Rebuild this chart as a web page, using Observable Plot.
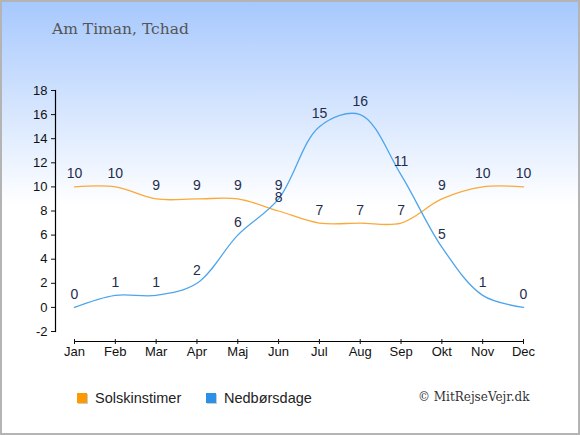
<!DOCTYPE html>
<html>
<head>
<meta charset="utf-8">
<script src="https://cdn.jsdelivr.net/npm/d3@7"></script>
<script src="https://cdn.jsdelivr.net/npm/@observablehq/plot@0.6"></script>
<style>
  html, body { margin: 0; padding: 0; }
  #wrap {
    position: relative; width: 580px; height: 435px;
    background: linear-gradient(to bottom, #a6c8fd 0px, #ffffff 205px, #ffffff 435px);
    overflow: hidden;
  }
  #chart { position: absolute; left: 0; top: 0; width: 580px; height: 435px; }
  #chart svg { max-width: none; display: block; }
  #border { position: absolute; left: 0; top: 0; width: 580px; height: 435px; box-sizing: border-box; border: 2px solid #b4b4b4; pointer-events: none; }
  #title { position: absolute; left: 52px; top: 20px; font-family: "DejaVu Serif", "Liberation Serif", serif; font-size: 15.5px; color: #555; }
  .leg { position: absolute; top: 390px; font-family: "Liberation Sans", Arial, sans-serif; font-size: 14.5px; color: #222; display: flex; align-items: center; }
  .sw { width: 10px; height: 10px; margin-right: 8px; box-shadow: 1px 1px 0 #ccc; }
  #copy { position: absolute; left: 418px; top: 390px; font-family: "DejaVu Serif", "Liberation Serif", serif; font-size: 12px; color: #333; }
</style>
</head>
<body>
<div id="wrap">
  <div id="chart"></div>
  <div id="title">Am Timan, Tchad</div>
  <div class="leg" style="left:77px"><div class="sw" style="background:#ff9900"></div>Solskinstimer</div>
  <div class="leg" style="left:206px"><div class="sw" style="background:#2b90e6"></div>Nedbørsdage</div>
  <div id="copy">© MitRejseVejr.dk</div>
  <div id="border"></div>
</div>
<script>
const months = ["Jan","Feb","Mar","Apr","Maj","Jun","Jul","Aug","Sep","Okt","Nov","Dec"];
const solskinstimer = [10,10,9,9,9,8,7,7,7,9,10,10];
const nedborsdage = [0,1,1,2,6,9,15,16,11,5,1,0];
const yTicks = [-2,0,2,4,6,8,10,12,14,16,18];

const sun = months.map((m,i) => ({i, month: m, value: solskinstimer[i]}));
const rain = months.map((m,i) => ({i, month: m, value: nedborsdage[i]}));
const monthIdx = months.map((m,i) => i);
const font = "Liberation Sans, Arial, sans-serif";

const chart = Plot.plot({
  width: 580, height: 435,
  marginLeft: 55, marginRight: 57, marginTop: 90, marginBottom: 104,
  style: {background: "transparent", fontFamily: font, fontSize: "13px", color: "#111", maxWidth: "none"},
  x: {type: "linear", domain: [0, months.length - 1], range: [74, 523]},
  y: {domain: [-2, 18]},
  marks: [
    Plot.frame({anchor: "left", stroke: "#000", strokeWidth: 1.2}),
    Plot.axisY({ticks: yTicks, tickFormat: d => String(d), tickSize: 4, tickPadding: 4, label: null, fontSize: 13}),
    Plot.ruleY([{a: 0, b: months.length - 1, v: -2}], {x1: "a", x2: "b", y: "v", dy: 10, stroke: "#000", strokeWidth: 1.2}),
    Plot.axisX({ticks: monthIdx, tickFormat: i => months[i], tickSize: 5, tickPadding: 2, dy: 8, label: null, fontSize: 13}),
    Plot.line(sun, {x: "i", y: "value", stroke: "#fba93a", strokeWidth: 1.3, curve: "catmull-rom"}),
    Plot.line(rain, {x: "i", y: "value", stroke: "#4ea5ec", strokeWidth: 1.3, curve: "catmull-rom"}),
    Plot.text(sun, {x: "i", y: "value", text: d => String(d.value), dy: -13, fill: "#1f2d4d", fontSize: 14}),
    Plot.text(rain, {x: "i", y: "value", text: d => String(d.value), dy: -13, fill: "#1f2d4d", fontSize: 14})
  ]
});
document.getElementById("chart").appendChild(chart);
</script>
</body>
</html>
